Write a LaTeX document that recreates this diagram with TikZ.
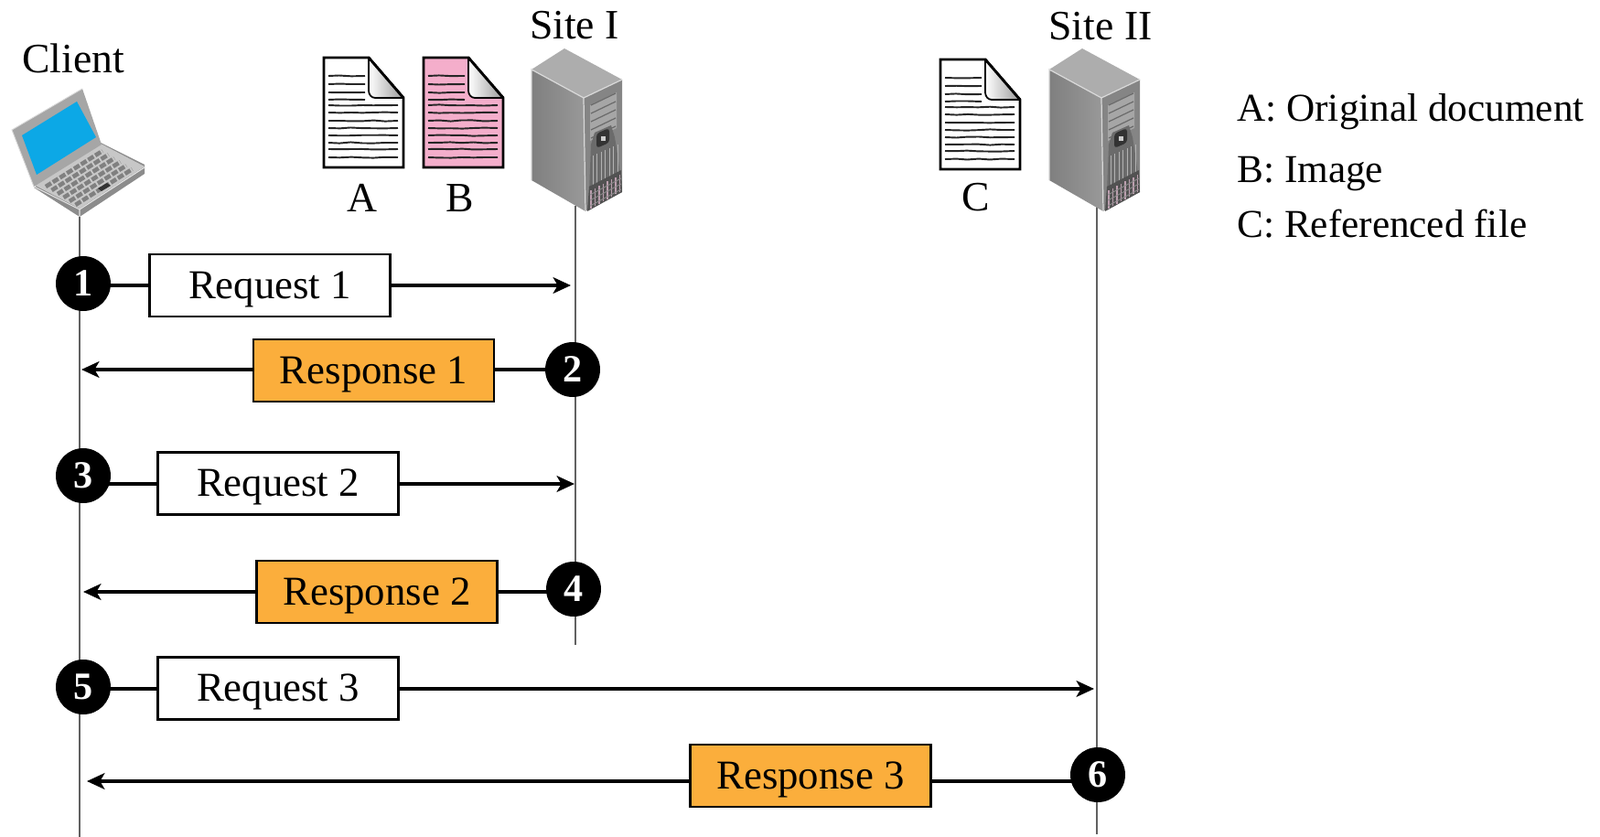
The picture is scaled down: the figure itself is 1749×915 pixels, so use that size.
\documentclass[tikz,border=0pt]{standalone}
\usepackage{fontspec}
\setmainfont{Liberation Serif}
\usetikzlibrary{arrows.meta,backgrounds,decorations.pathmorphing}
\newcommand\colorLifeline{black!62}
\definecolor{respOrange}{HTML}{FBAE3C}
\definecolor{docPink}{HTML}{F4AECB}
\definecolor{screenBlue}{HTML}{0CA8E6}
\tikzset{
	label/.style={font=\fontsize{26}{30}\selectfont, anchor=base, inner sep=0pt},
	legend/.style={font=\fontsize{24.6}{30}\selectfont, anchor=base west, inner sep=0pt},
	lifeline/.style={color=\colorLifeline, line width=1.6pt},
	msgbox/.style={draw, line width=1.5pt, minimum width=263*0.02cm, minimum height=68*0.02cm, inner sep=0pt, text height=16.2pt, text depth=0pt, font=\fontsize{25.5}{30}\selectfont},
	msgline/.style={line width=2.2pt},
	numdot/.style={circle, fill=black, text=white, minimum size=60*0.02cm, inner sep=0pt, font=\fontsize{24}{30}\selectfont\bfseries},
	docedge/.style={line width=1.6pt, line join=miter},
	docline/.style={line width=1.1pt, black!85, decorate, decoration={random steps, segment length=7pt, amplitude=0.35pt}},
}
\newcommand\drawDoc[3]{
	\begin{scope}[shift={(#1,#2)}]
		\draw[docedge, fill=#3] (0,0) -- (49,0) -- (87,44) -- (87,120) -- (0,120) -- cycle;
		\shade[left color=white, right color=black!40] (49,0) -- (87,44) -- (56,44) to[out=180, in=-90] (49,36) -- cycle;
		\draw[line width=1pt] (49,0) -- (49,36) to[out=-90, in=180] (56,44) -- (87,44);
		\draw[docedge] (49,0) -- (87,44);
		\foreach \y in {20,29,38,46}{
			\draw[docline] (5,\y) -- (45,\y);
		}
		\foreach \y in {52,60,69,77,85,93,100,109}{
			\draw[docline] (5,\y) -- (81,\y);
		}
	\end{scope}
}
\newcommand\drawServer[1]{
	\begin{scope}[shift={(#1,0)}]
		\shade[left color=black!50, right color=black!40] (581,76) -- (638,107) -- (640,231) -- (581,197) -- cycle;
		\fill[black!32] (617,53) -- (581,76) -- (638,107) -- (680,87) -- cycle;
		\fill[black!48] (638,107) -- (680,87) -- (680,210) -- (640,231) -- cycle;
		\draw[white!85!black, line width=0.7pt] (581,197) -- (581,76) -- (638,107) -- (680,87) (638,107) -- (640,231);
		\fill[black!35] (645,115) -- (674,101) -- (674,140) -- (645,154) -- cycle;
		\foreach \y in {0,...,4}{
			\draw[black!58, line width=0.7pt] (646,115+\y*9) -- (673,102+\y*9);
		}
		\fill[black!58] (646,158) -- (650,145) -- (668,137) -- (672,150) -- (676,175) -- (678,192) -- (644,210) -- cycle;
		\fill[black!80, rounded corners=2pt] (652,146) -- (666,140) -- (666,156) -- (652,162) -- cycle;
		\fill[white!80!black] (657,149) rectangle (662,154);
		\foreach \x in {0,...,6}{
			\draw[black!30, line width=0.5pt] (648+\x*4.5,170-\x*2) -- (648+\x*4.5,205-\x*2.3);
		}
		\fill[black!68] (644,204) -- (679,186) -- (680,210) -- (642,231) -- cycle;
		\foreach \x in {0,...,7}{
			\draw[magenta!35!black!45, line width=0.8pt] (646+\x*4.5,208-\x*2.4) -- (646+\x*4.5,228-\x*2.6);
		}
		\foreach \y in {0,1,2}{
			\draw[black!45, line width=0.5pt] (645,213+\y*6) -- (679,195+\y*6);
		}
	\end{scope}
}
\newcommand\drawLaptop{
	\fill[black!45] (37,205) -- (87,237) -- (158,190) -- (158,180) -- (108,155) -- cycle;
	\fill[black!22] (37,202) -- (110,157) -- (158,182) -- (87,228) -- cycle;
	\draw[white!90!black, line width=0.6pt] (37,204) -- (87,229) -- (158,183) (87,229) -- (87,237);
	\fill[black!35] (90,97) -- (13,142) -- (37,204) -- (111,158) -- cycle;
	\draw[white!85!black, line width=0.5pt] (90,97) -- (13,142) -- (37,204);
	\fill[screenBlue] (84,111) -- (24,148) -- (40,191) -- (105,150) -- cycle;
	\foreach \r in {0,...,5}{
		\draw[black!50, line width=2.6pt, dash pattern=on 4pt off 1.2pt] (50+\r*6.5,204+\r*4) -- (112+\r*6.5,165+\r*4);
	}
	\fill[black!80] (107,206) -- (117,200) -- (121,203) -- (111,209) -- cycle;
}
\begin{document}
\begin{tikzpicture}[x=0.02cm, y=-0.02cm]
	\useasboundingbox (0,0) rectangle (1749,915);
	% lifelines
	\coordinate (clientTop) at (87,230);
	\coordinate (clientEnd) at (87,915);
	\coordinate (siteOneTop) at (629,225);
	\coordinate (siteOneEnd) at (629,705);
	\coordinate (siteTwoTop) at (1199,225);
	\coordinate (siteTwoEnd) at (1199,912);
	\draw[lifeline] (clientTop) to (clientEnd);
	\draw[lifeline] (siteOneTop) to (siteOneEnd);
	\draw[lifeline] (siteTwoTop) to (siteTwoEnd);

	\drawLaptop
	\drawServer{0}
	\drawServer{566}
	\drawDoc{354}{63}{white}
	\drawDoc{463}{63}{docPink}
	\drawDoc{1028}{65}{white}

	\node[label] (client) at (80,80) {Client};
	\node[label] (siteOne) at (628,43) {Site I};
	\node[label] (siteTwo) at (1203,44) {Site II};
	\node[label] (docA) at (396,232) {A};
	\node[label] (docB) at (503,232) {B};
	\node[label] (docC) at (1067,231) {C};
	\node[legend] (legendA) at (1352,133) {A: Original document};
	\node[legend] (legendB) at (1352,200) {B: Image};
	\node[legend] (legendC) at (1352,260) {C: Referenced file};

	% messages: number/circle x,y/box x,y/line y/arrow end x/fill/text
	\foreach \i/\cx/\cy/\bx/\by/\ly/\ex/\col/\txt in {
		1/91/310/295/312/312/624/white/Request 1,
		2/626/404/408.5/405/404/89/respOrange/Response 1,
		3/91/520/304/528.5/529/628/white/Request 2,
		4/627/644/412/647/647/91/respOrange/Response 2,
		5/91/751/304/752.5/753/1196/white/Request 3,
		6/1200/847/886/848/854/95/respOrange/Response 3}{
		\node[msgbox, fill=\col] (box\i) at (\bx,\by) {\txt};
		\coordinate (end\i) at (\ex,\ly);
		\node[numdot] (num\i) at (\cx,\cy) {\i};
		\begin{scope}[on background layer]
			\draw[msgline, -{Stealth[length=11pt, width=10pt, inset=2.8pt]}] (end\i -| box\i) to (end\i);
			\draw[msgline] (end\i -| box\i) to (end\i -| num\i);
		\end{scope}
	}
\end{tikzpicture}
\end{document}
